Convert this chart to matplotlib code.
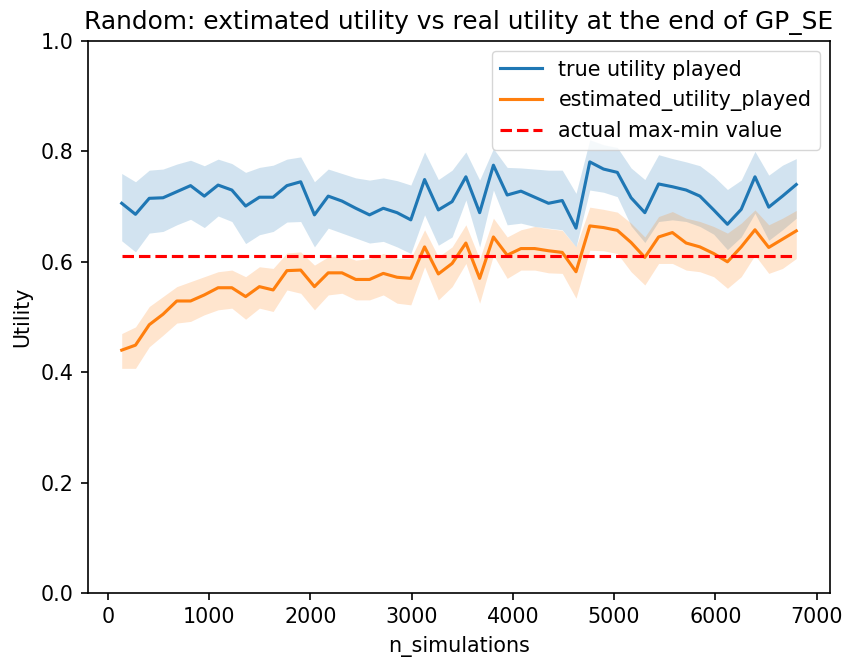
import matplotlib
matplotlib.use("Agg")
import matplotlib.pyplot as plt
import numpy as np

# Number of simulations at each evaluation point
n_simulations = [136, 272, 408, 544, 680, 816, 952, 1088, 1224, 1360,
                 1496, 1632, 1768, 1904, 2040, 2176, 2312, 2448, 2584, 2720,
                 2856, 2992, 3128, 3264, 3400, 3536, 3672, 3808, 3944, 4080,
                 4216, 4352, 4488, 4624, 4760, 4896, 5032, 5168, 5304, 5440,
                 5576, 5712, 5848, 5984, 6120, 6256, 6392, 6528, 6664, 6800]

# True utility played: mean and confidence band
true_mean = [0.706, 0.686, 0.715, 0.716, 0.727, 0.738, 0.719, 0.739, 0.730, 0.701,
             0.717, 0.717, 0.738, 0.745, 0.685, 0.719, 0.710, 0.697, 0.685, 0.697,
             0.689, 0.676, 0.749, 0.694, 0.709, 0.754, 0.689, 0.775, 0.721, 0.728,
             0.717, 0.706, 0.711, 0.661, 0.781, 0.768, 0.762, 0.716, 0.689, 0.741,
             0.736, 0.730, 0.719, 0.694, 0.668, 0.695, 0.754, 0.699, 0.719, 0.740]
true_upper = [0.760, 0.745, 0.766, 0.768, 0.777, 0.784, 0.774, 0.786, 0.778, 0.762,
              0.771, 0.775, 0.786, 0.790, 0.745, 0.768, 0.760, 0.752, 0.748, 0.752,
              0.747, 0.739, 0.799, 0.749, 0.766, 0.799, 0.748, 0.805, 0.771, 0.770,
              0.768, 0.766, 0.766, 0.724, 0.821, 0.812, 0.807, 0.770, 0.749, 0.794,
              0.787, 0.781, 0.774, 0.755, 0.731, 0.748, 0.800, 0.757, 0.775, 0.787]
true_lower = [0.638, 0.618, 0.652, 0.655, 0.667, 0.677, 0.662, 0.683, 0.673, 0.633,
              0.649, 0.655, 0.672, 0.673, 0.627, 0.661, 0.652, 0.643, 0.634, 0.637,
              0.627, 0.615, 0.685, 0.630, 0.645, 0.712, 0.627, 0.730, 0.667, 0.670,
              0.664, 0.661, 0.658, 0.627, 0.730, 0.726, 0.718, 0.665, 0.635, 0.673,
              0.676, 0.673, 0.664, 0.650, 0.622, 0.645, 0.688, 0.639, 0.658, 0.679]

# Estimated utility played: mean and confidence band
est_mean = [0.440, 0.449, 0.486, 0.505, 0.529, 0.529, 0.540, 0.553, 0.553, 0.537,
            0.555, 0.549, 0.584, 0.585, 0.555, 0.580, 0.580, 0.568, 0.568, 0.579,
            0.572, 0.570, 0.627, 0.578, 0.597, 0.634, 0.570, 0.645, 0.612, 0.624,
            0.624, 0.620, 0.617, 0.582, 0.665, 0.662, 0.657, 0.635, 0.608, 0.645,
            0.653, 0.634, 0.627, 0.615, 0.600, 0.627, 0.658, 0.626, 0.641, 0.656]
est_upper = [0.470, 0.482, 0.519, 0.537, 0.555, 0.564, 0.573, 0.582, 0.585, 0.573,
             0.591, 0.588, 0.616, 0.618, 0.594, 0.609, 0.612, 0.603, 0.606, 0.615,
             0.606, 0.606, 0.658, 0.609, 0.627, 0.667, 0.605, 0.679, 0.645, 0.658,
             0.664, 0.660, 0.657, 0.627, 0.699, 0.695, 0.690, 0.670, 0.645, 0.682,
             0.691, 0.679, 0.673, 0.664, 0.652, 0.670, 0.694, 0.667, 0.679, 0.693]
est_lower = [0.407, 0.407, 0.446, 0.467, 0.489, 0.492, 0.504, 0.513, 0.516, 0.496,
             0.516, 0.510, 0.549, 0.543, 0.513, 0.540, 0.543, 0.531, 0.531, 0.540,
             0.525, 0.522, 0.591, 0.531, 0.555, 0.597, 0.525, 0.612, 0.570, 0.585,
             0.585, 0.580, 0.579, 0.534, 0.621, 0.620, 0.615, 0.582, 0.558, 0.597,
             0.597, 0.585, 0.582, 0.573, 0.552, 0.573, 0.612, 0.579, 0.588, 0.606]

max_min_value = 0.61

S = 1.49  # scale factor for fonts and line widths
plt.rcParams.update({
    "font.size": 10 * S,
    "axes.linewidth": 0.8 * S,
    "xtick.major.width": 0.8 * S,
    "ytick.major.width": 0.8 * S,
    "xtick.major.size": 3.5 * S,
    "ytick.major.size": 3.5 * S,
    "xtick.major.pad": 3.5 * S,
    "ytick.major.pad": 3.5 * S,
    "axes.labelpad": 4.0 * S,
    "axes.titlepad": 6.0 * S,
    "lines.linewidth": 1.5 * S,
})

fig = plt.figure(figsize=(8.46, 6.62), dpi=100)
ax = fig.add_axes([88 / 846, 1 - 593 / 662, (830 - 88) / 846, (593 - 41) / 662])

x = np.array(n_simulations)
ax.plot(x, true_mean, color="#1f77b4", label="true utility played")
ax.fill_between(x, true_lower, true_upper, color="#1f77b4", alpha=0.2, linewidth=0)
ax.plot(x, est_mean, color="#ff7f0e", label="estimated_utility_played")
ax.fill_between(x, est_lower, est_upper, color="#ff7f0e", alpha=0.2, linewidth=0)
ax.hlines(max_min_value, x[0], x[-1], colors="r", linestyles="--",
          linewidth=1.5 * S, label="actual max-min value")

ax.set_ylim(0, 1)
ax.set_xticks([0, 1000, 2000, 3000, 4000, 5000, 6000, 7000])
ax.set_xlabel("n_simulations")
ax.set_ylabel("Utility")
ax.set_title("Random: extimated utility vs real utility at the end of GP_SE",
             fontsize=12 * S)
ax.legend(loc="upper right")

fig.savefig("out.png", dpi=100)
